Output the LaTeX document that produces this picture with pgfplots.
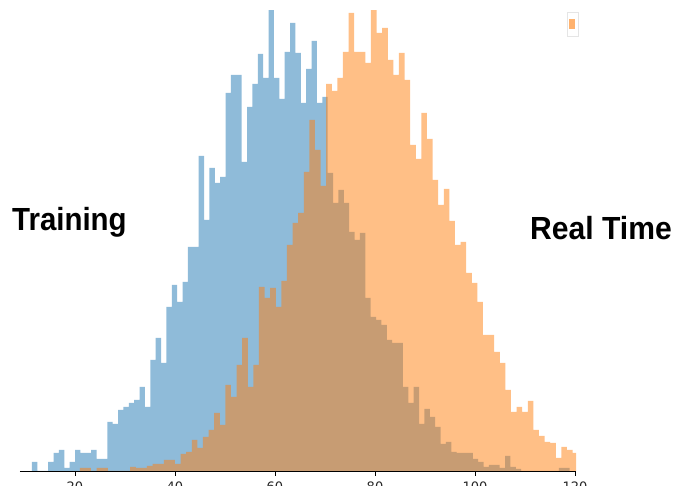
\documentclass[border=0pt]{standalone}
\usepackage{pgfplots}
\pgfplotsset{compat=1.18}
\usepackage{pgfplotstable}
\usepackage{graphicx}
\usepackage{fontspec}
\setmainfont{Liberation Sans}
\newfontfamily\tickfont{DejaVu Sans}
\definecolor{c0}{RGB}{31,119,180}
\definecolor{c1}{RGB}{255,127,14}

\pgfplotstableread{
x h
11.40 9
12.48 0
13.55 0
14.63 9
15.70 18
16.78 21
17.85 3
18.93 9
20.00 21
21.08 18
22.15 18
23.23 21
24.30 12
25.38 12
26.45 49
27.53 47
28.60 61
29.68 64
30.75 68
31.83 71
32.90 84
33.98 64
35.05 111
36.13 133
37.20 108
38.28 164
39.35 186
40.43 169
41.50 189
42.58 224
43.65 224
44.73 315
45.80 251
46.88 303
47.95 288
49.03 294
50.10 378
51.18 396
52.25 396
53.33 309
54.40 364
55.48 387
56.55 417
57.63 393
58.70 470
59.78 393
60.85 372
61.93 419
63.00 448
64.08 418
65.15 368
66.23 402
67.30 430
68.38 368
69.45 374
70.53 298
71.60 268
72.68 281
73.75 268
74.83 239
75.90 231
76.98 238
78.05 173
79.13 154
80.20 151
81.28 146
82.35 131
83.43 128
84.50 128
85.58 84
86.65 68
87.73 84
88.80 47
89.88 62
90.95 54
92.03 44
93.10 27
94.18 29
95.25 19
96.33 18
97.40 18
98.48 18
99.55 12
100.63 9
101.70 4
102.78 6
103.85 6
104.93 3
106.00 15
107.08 4
108.15 2
109.23 0
110.30 0
111.38 0
112.45 0
113.53 0
114.60 0
115.68 0
116.75 3
117.83 3
118.90 3
}\trainingdata

\pgfplotstableread{
x h
20.95 3
22.07 3
23.19 0
24.31 3
25.43 3
26.55 0
27.67 0
28.79 0
29.91 0
31.03 4
32.15 3
33.27 3
34.39 5
35.51 7
36.63 7
37.75 11
38.87 11
39.99 7
41.11 17
42.23 19
43.35 31
44.47 23
45.59 34
46.71 41
47.83 58
48.95 46
50.07 86
51.19 74
52.31 106
53.43 133
54.55 84
55.67 106
56.79 184
57.91 173
59.03 183
60.15 164
61.27 190
62.39 226
63.51 248
64.63 258
65.75 299
66.87 351
67.99 321
69.11 285
70.23 387
71.35 380
72.47 393
73.59 419
74.71 458
75.83 419
76.95 419
78.07 408
79.19 470
80.31 438
81.43 443
82.55 411
83.67 396
84.79 418
85.91 391
87.03 326
88.15 312
89.27 358
90.39 332
91.51 291
92.63 266
93.75 282
94.87 250
95.99 226
97.11 229
98.23 198
99.35 188
100.47 169
101.59 136
102.71 136
103.83 119
104.95 108
106.07 81
107.19 59
108.31 64
109.43 59
110.55 70
111.67 41
112.79 35
113.91 29
115.03 28
116.15 13
117.27 24
118.39 21
119.51 18
120.63 18
}\realtimedata

\begin{document}
\begin{tikzpicture}
\begin{axis}[
  scale only axis,
  width=556pt, height=460pt,
  xmin=9, xmax=120.2, ymin=0, ymax=460,
  axis x line*=bottom,
  axis y line=none,
  x axis line style={black, line width=0.8pt, -},
  xtick={20,40,60,80,100,120},
  ytick=\empty,
  tick align=outside,
  major tick length=5pt,
  xtick style={black, line width=0.8pt},
  xticklabel style={font=\tickfont\fontsize{13}{13}\selectfont, inner sep=0pt, yshift=-5.7pt, text=black!85},
  /pgf/number format/assume math mode=true,
  legend style={at={(axis cs:118.4,459)}, anchor=north west, draw=black!10, fill=white, inner xsep=2pt, inner ysep=7pt, font=\tiny, nodes={inner sep=0pt}, column sep=0pt},
  legend image code/.code={\fill[c1, fill opacity=0.6] (0pt,-5pt) rectangle (6pt,5pt);},
]
\addplot[const plot, fill=c0, fill opacity=0.5, draw=none, forget plot] table[x=x, y=h] {\trainingdata} \closedcycle;
\addplot[const plot, fill=c1, fill opacity=0.5, draw=none] table[x=x, y=h] {\realtimedata} \closedcycle;
\addlegendentry{}
\end{axis}
\node[anchor=base west, inner sep=0pt, font=\bfseries\fontsize{32}{32}\selectfont] at ([shift={(-8pt,240pt)}]current axis.south west) {\scalebox{0.92}[1]{Training}};
\node[anchor=base west, inner sep=0pt, font=\bfseries\fontsize{32}{32}\selectfont] at ([shift={(510pt,231pt)}]current axis.south west) {\scalebox{0.94}[1]{Real Time}};
\pgfresetboundingbox
\path[use as bounding box] ([shift={(-20pt,-15pt)}]current axis.south west) rectangle ([shift={(104pt,11pt)}]current axis.north east);
\end{tikzpicture}
\end{document}
